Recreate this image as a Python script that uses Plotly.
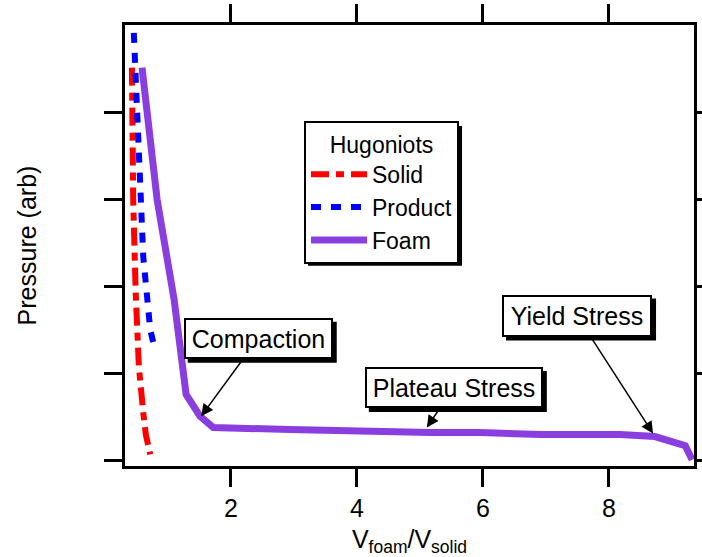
import plotly.graph_objects as go

# Data
solid_x = [0.43, 0.45, 0.49, 0.54, 0.61, 0.65, 0.72]
solid_y = [4.52, 3.00, 1.93, 1.08, 0.55, 0.30, 0.07]

product_x = [0.46, 0.51, 0.57, 0.61, 0.67, 0.72, 0.78]
product_y = [4.92, 3.94, 3.02, 2.34, 1.89, 1.51, 1.32]

foam_x = [0.59, 0.83, 1.10, 1.22, 1.29, 1.51, 1.67, 1.72, 2.94, 4.05, 5.16, 5.95, 6.91, 8.18, 8.73, 9.21, 9.32]
foam_y = [4.52, 3.00, 1.85, 1.08, 0.76, 0.51, 0.41, 0.38, 0.356, 0.333, 0.322, 0.322, 0.30, 0.30, 0.276, 0.17, 0.01]

x_ticks = [2, 4, 6, 8]
y_ticks = [0, 1, 2, 3, 4]

# annotation label, arrow tip (data x, y)
note_text = ["Compaction", "Plateau Stress", "Yield Stress"]
note_x = [1.53, 5.11, 8.70]
note_y = [0.51, 0.38, 0.31]

# label box offsets / sizes (px)
note_ax = [57, 27, -76]
note_ay = [-78, -40, -118]
note_w = [149, 178, 150]
note_h = [41, 41, 42]

FONT = "Liberation Sans, Arial, sans-serif"
SH = 4  # shadow offset px
BW, PAD = 2, 1

fig = go.Figure()
fig.add_trace(go.Scatter(x=solid_x, y=solid_y, mode="lines", name="Solid",
                         line=dict(color="#ff0000", width=6, dash="18px,7px,8px,7px")))
fig.add_trace(go.Scatter(x=product_x, y=product_y, mode="lines", name="Product",
                         line=dict(color="#0000ff", width=6, dash="10px,10px")))
fig.add_trace(go.Scatter(x=foam_x, y=foam_y, mode="lines", name="Foam",
                         line=dict(color="#8a3ee0", width=7)))

annotations = []
shapes = []
for text, x, y, ax, ay, w, h in zip(note_text, note_x, note_y, note_ax, note_ay, note_w, note_h):
    annotations.append(dict(text=text, x=x, y=y, ax=ax, ay=ay, xref="x", yref="y",
                            showarrow=True, arrowhead=2, arrowsize=1.6, arrowwidth=1.5,
                            arrowcolor="black",
                            width=w - 2 * (BW + PAD), height=h - 2 * (BW + PAD),
                            font=dict(family=FONT, size=25, color="black"),
                            bgcolor="white", bordercolor="black", borderwidth=BW, borderpad=PAD))
    # drop shadow behind the label box
    shapes.append(dict(type="rect", xref="x", yref="y", xsizemode="pixel", ysizemode="pixel",
                       xanchor=x, yanchor=y,
                       x0=ax + SH - w / 2, x1=ax + SH + w / 2,
                       y0=-ay - SH - h / 2, y1=-ay - SH + h / 2,
                       fillcolor="black", line=dict(width=0), layer="above"))

# legend drop shadow
shapes.append(dict(type="rect", xref="paper", yref="paper", x0=0.3216, x1=0.5923, y0=0.4541, y1=0.7712,
                   fillcolor="black", line=dict(width=0), layer="above"))

fig.update_layout(
    width=702, height=557,
    margin=dict(l=125, r=8, t=25, b=91),
    paper_bgcolor="white", plot_bgcolor="white",
    font=dict(family=FONT, size=25, color="black"),
    showlegend=True,
    legend=dict(x=0.3146, y=0.7826, xanchor="left", yanchor="top",
                bgcolor="white", bordercolor="black", borderwidth=2,
                font=dict(family=FONT, size=23),
                title=dict(text="Hugoniots", side="top center", font=dict(family=FONT, size=23)),
                itemwidth=56, tracegroupgap=0),
    annotations=annotations,
    shapes=shapes,
)

fig.update_xaxes(range=[0.32, 9.35], tickvals=x_ticks, ticktext=[str(v) for v in x_ticks],
                 ticks="outside", ticklen=18, tickwidth=3, tickcolor="black",
                 showline=True, linewidth=3, linecolor="black", mirror="allticks",
                 showgrid=False, zeroline=False, automargin=False,
                 tickfont=dict(family=FONT, size=25),
                 title=dict(text="V<sub>foam</sub>/V<sub>solid</sub>", font=dict(family=FONT, size=25), standoff=10))
fig.update_yaxes(range=[-0.063, 5.01], tickvals=y_ticks, showticklabels=False,
                 ticks="outside", ticklen=18, tickwidth=3, tickcolor="black",
                 showline=True, linewidth=3, linecolor="black", mirror="allticks",
                 showgrid=False, zeroline=False, automargin=False,
                 title=dict(text="Pressure (arb)", font=dict(family=FONT, size=25), standoff=61))

fig.write_html("out.html", config={"displayModeBar": False},
               post_script="document.body.style.margin='0';")
